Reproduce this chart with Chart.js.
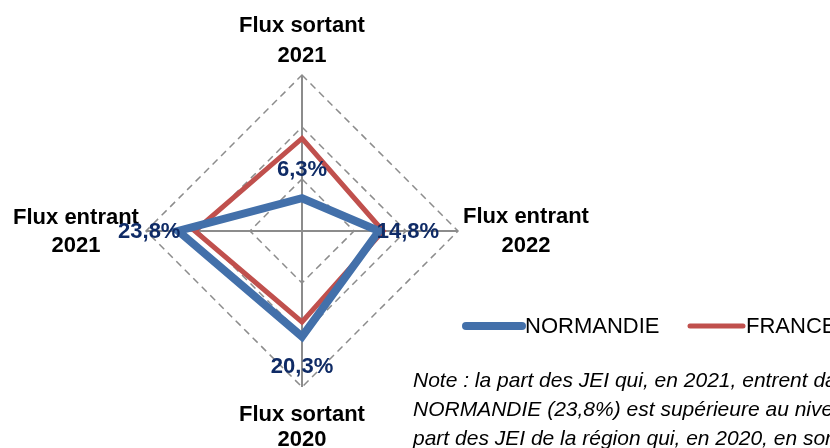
<!DOCTYPE html>
<html>
<head>
<meta charset="utf-8">
<script src="https://cdn.jsdelivr.net/npm/chart.js@4/dist/chart.umd.min.js"></script>
<style>
  html, body { margin: 0; padding: 0; background: #fff; }
  canvas { display: block; }
</style>
</head>
<body>
<canvas id="radar" width="830" height="448"></canvas>
<script>
const axisLabels = [['Flux sortant', '2021'], ['Flux entrant', '2022'], ['Flux sortant', '2020'], ['Flux entrant', '2021']]
const normandie = [6.3, 14.8, 20.3, 23.8]
const france = [17.8, 15.6, 17.5, 20.6]
const seriesNames = ['NORMANDIE', 'FRANCE']
const noteLines = [
  'Note : la part des JEI qui, en 2021, entrent dans la région',
  'NORMANDIE (23,8%) est supérieure au niveau national',
  'part des JEI de la région qui, en 2020, en sortent'
]

const FONT = '"Liberation Sans", Arial, sans-serif'
const BLUE = '#4370aa'
const RED = '#c0504d'

// offsets for the axis titles (center x, baselines) relative to the outer vertex
const titleOffsets = [
  { dx: 0, dy: [-43, -13] },
  { dx: 68, dy: [-8, 21] },
  { dx: 0, dy: [34, 59] },
  { dx: -70, dy: [-7, 21] }
]

const extras = {
  id: 'extras',
  afterDatasetsDraw(chart) {
    const ctx = chart.ctx
    const sc = chart.scales.r
    const R = sc.drawingArea
    ctx.save()
    ctx.textAlign = 'center'
    ctx.textBaseline = 'alphabetic'

    // axis titles
    ctx.fillStyle = '#000'
    ctx.font = 'bold 22px ' + FONT
    axisLabels.forEach((lines, i) => {
      const p = sc.getPointPosition(i, R)
      lines.forEach((t, k) => {
        ctx.fillText(t, p.x + titleOffsets[i].dx, p.y + titleOffsets[i].dy[k])
      })
    })

    // data labels for NORMANDIE
    ctx.fillStyle = '#0f2b66'
    ctx.font = 'bold 22px ' + FONT
    ctx.textBaseline = 'middle'
    normandie.forEach((v, i) => {
      const p = sc.getPointPositionForValue(i, v)
      const a = sc.getIndexAngle(i) - Math.PI / 2
      const x = p.x + Math.cos(a) * 29
      const y = p.y + Math.sin(a) * 29
      ctx.fillText(v.toFixed(1).replace('.', ',') + '%', x, y + 1)
    })

    // legend
    ctx.textAlign = 'left'
    ctx.fillStyle = '#000'
    ctx.font = '22px ' + FONT
    const leg = [
      { x: 466, w: 56, lw: 8, c: BLUE },
      { x: 690, w: 53, lw: 5, c: RED }
    ]
    ctx.lineCap = 'round'
    leg.forEach((l, i) => {
      ctx.strokeStyle = l.c
      ctx.lineWidth = l.lw
      ctx.beginPath()
      ctx.moveTo(l.x, 326)
      ctx.lineTo(l.x + l.w, 326)
      ctx.stroke()
      ctx.fillText(seriesNames[i], l.x + l.w + 3, 327)
    })

    // note
    ctx.font = 'italic 21px ' + FONT
    ctx.textBaseline = 'alphabetic'
    noteLines.forEach((t, k) => {
      ctx.fillText(t, 413, 387 + k * 29)
    })
    ctx.restore()
  }
}

new Chart(document.getElementById('radar'), {
  type: 'radar',
  data: {
    labels: axisLabels.map(l => l.join(' ')),
    datasets: [
      {
        label: seriesNames[0],
        data: normandie,
        borderColor: BLUE,
        borderWidth: 8,
        backgroundColor: 'transparent',
        fill: false,
        pointRadius: 0,
        pointHoverRadius: 0
      },
      {
        label: seriesNames[1],
        data: france,
        borderColor: RED,
        borderWidth: 5,
        backgroundColor: 'transparent',
        fill: false,
        pointRadius: 0,
        pointHoverRadius: 0
      }
    ]
  },
  options: {
    responsive: false,
    animation: false,
    layout: { padding: { left: 146, top: 75, right: 372, bottom: 61 } },
    plugins: { legend: { display: false }, tooltip: { enabled: false } },
    elements: { line: { tension: 0, borderJoinStyle: 'miter' } },
    scales: {
      r: {
        min: 0,
        max: 30,
        ticks: { display: false, stepSize: 10 },
        pointLabels: { display: false },
        grid: { color: '#8c8c8c', lineWidth: 1.5 },
        border: { dash: [7, 5] },
        angleLines: { color: '#8c8c8c', lineWidth: 2 }
      }
    }
  },
  plugins: [extras]
})
</script>
</body>
</html>
